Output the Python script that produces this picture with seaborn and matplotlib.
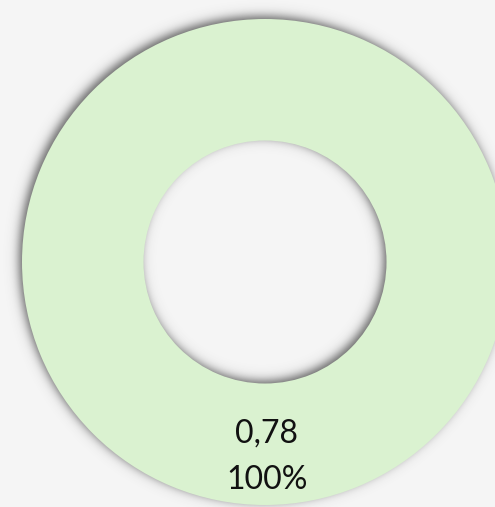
import numpy as np
import matplotlib
matplotlib.use("Agg")
import matplotlib.pyplot as plt
import seaborn as sns

labels = ["0,78"]
values = [0.78]
percent_labels = ["100%"]
colors = ["#daf2d0"]

sns.set_theme(style="white")
plt.rcParams['font.family'] = ['Lato', 'DejaVu Sans']

W, H = 495, 507
fig = plt.figure(figsize=(W / 100, H / 100), dpi=100)
fig.patch.set_facecolor("#f5f5f5")
ax = fig.add_axes([0, 0, 1, 1])
ax.set_facecolor("#f5f5f5")
ax.set_xlim(0, W)
ax.set_ylim(0, H)
ax.set_aspect("equal")
ax.axis("off")

cx, cy = 265, H - 262
r_out, width = 243, 0.5

# soft drop shadow (decoration)
yy, xx = np.mgrid[0:H, 0:W] + 0.5
sx, sy = cx - 3, cy + 3
d = np.hypot(xx - sx, yy - sy)
s = 3.0
r_in = r_out * (1 - width)
alpha = 1 / (1 + np.exp(-(r_out - d) / s)) * 1 / (1 + np.exp(-(d - r_in) / s))
rgba = np.zeros((H, W, 4))
rgba[..., :3] = 0.25
rgba[..., 3] = alpha * 0.8
ax.imshow(rgba, extent=(0, W, 0, H), origin="lower", zorder=1, interpolation="bilinear")

wedges, _ = ax.pie(values, colors=colors, radius=r_out, center=(cx, cy),
                   startangle=90, counterclock=False,
                   wedgeprops=dict(width=r_out * width, linewidth=0))
for w in wedges:
    w.set_zorder(2)
ax.set_xlim(0, W)
ax.set_ylim(0, H)

ax.text(cx + 2, H - 434, labels[0], ha="center", va="center", fontsize=23, color="#111111", zorder=3)
ax.text(cx + 2, H - 480, percent_labels[0], ha="center", va="center", fontsize=23, color="#111111", zorder=3)

fig.savefig("out.png", dpi=100, facecolor=fig.get_facecolor())
